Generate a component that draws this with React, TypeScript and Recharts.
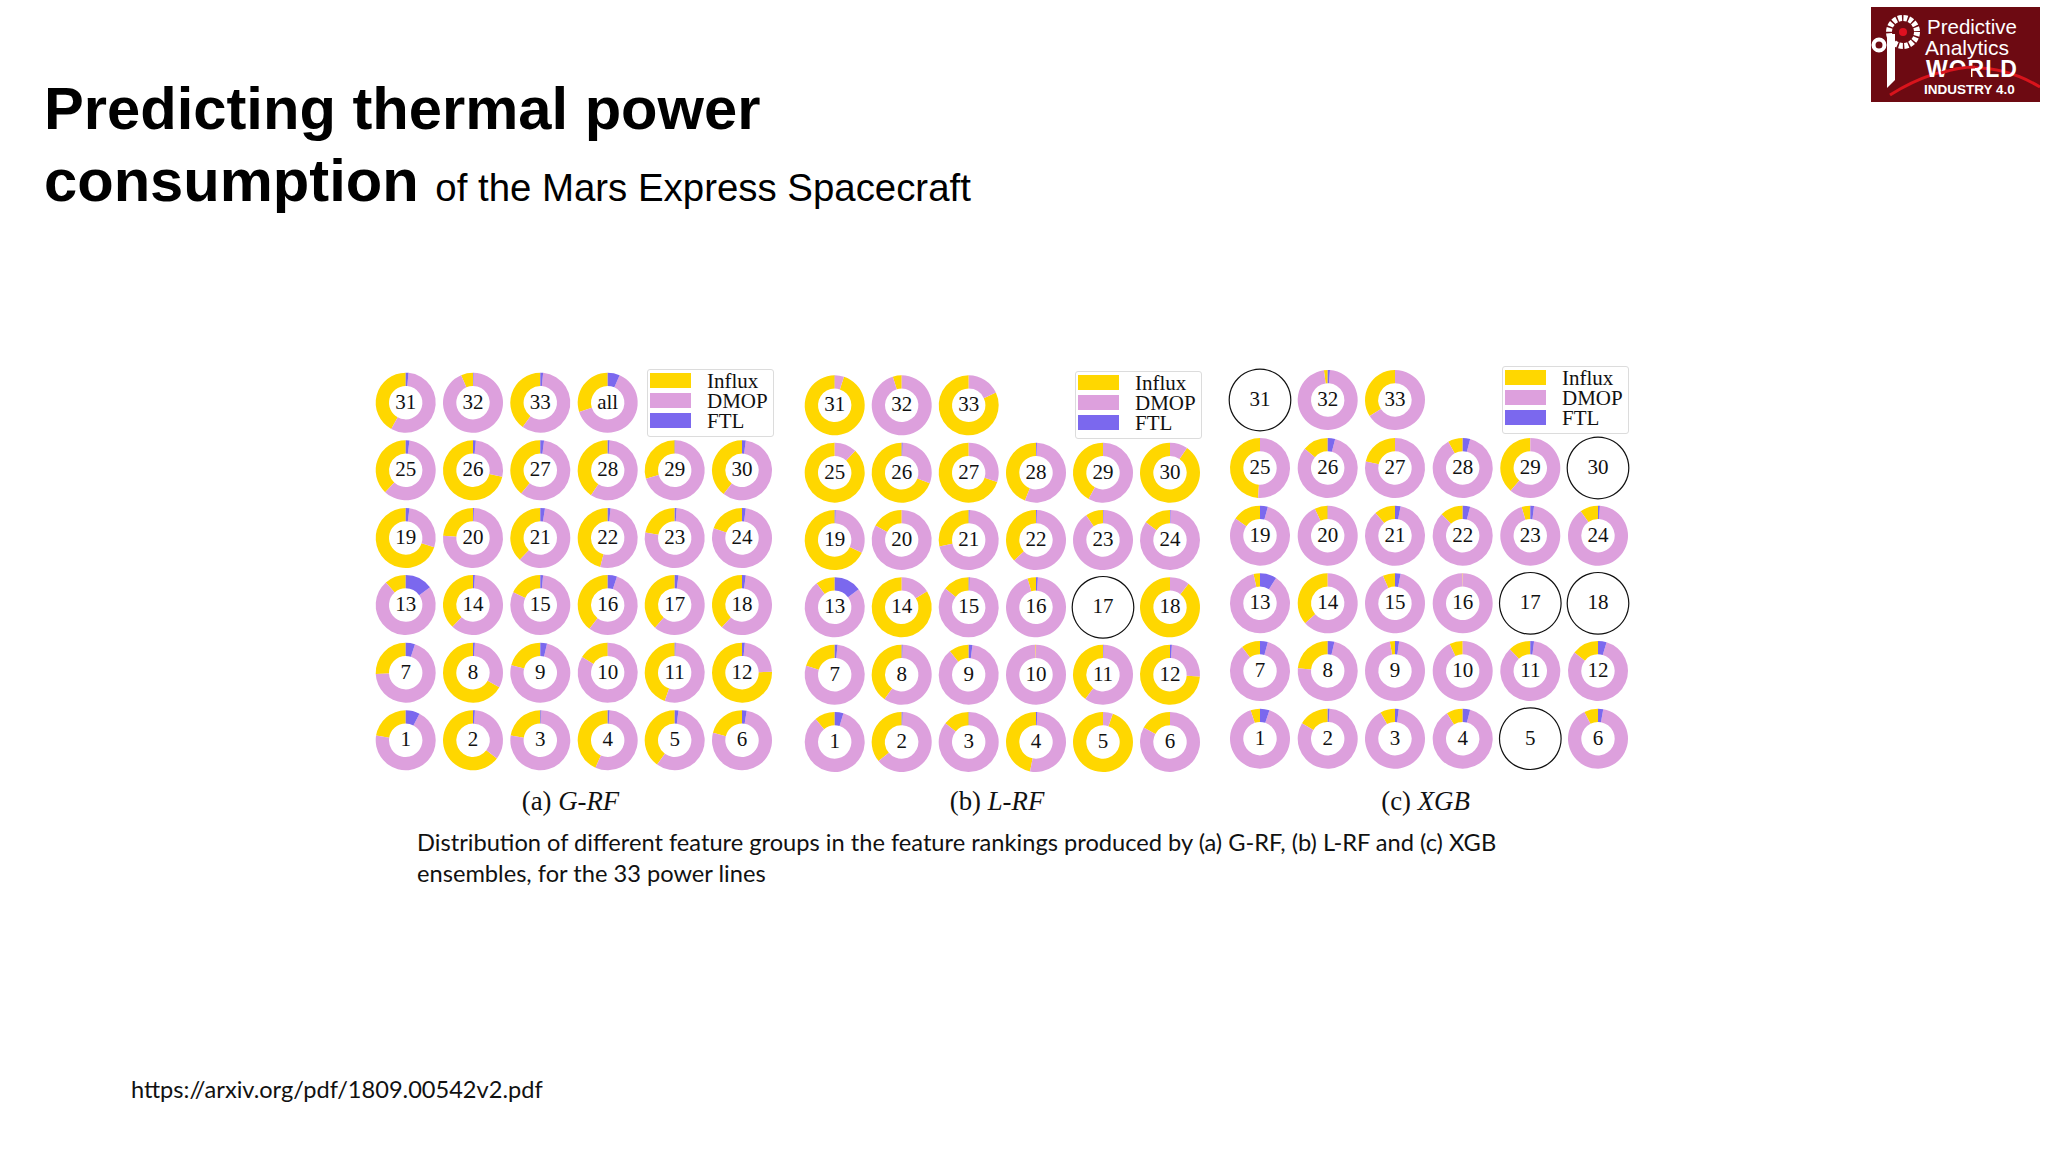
import { Fragment } from "react";
import { Pie, PieChart } from "recharts";

const GROUPS = ["Influx", "DMOP", "FTL"];
const GROUP_COLORS = ["#FFD700", "#DDA0DD", "#7B68EE"];

// power line labels, in the order of the value arrays below
const LINES = [
  "1", "2", "3", "4", "5", "6", "7", "8", "9", "10", "11", "12",
  "13", "14", "15", "16", "17", "18", "19", "20", "21", "22", "23", "24",
  "25", "26", "27", "28", "29", "30", "31", "32", "33", "all",
];

// share of each feature group in %, null = line has no ranking (empty ring)
const GRF_INFLUX = [
  22.5, 64.7, 22.5, 43.3, 40, 21, 25.7, 67, 21, 16.3, 44.6, 75.5,
  11.5, 38, 18, 39.6, 38.6, 38.3, 70, 23.8, 38, 46, 22, 19.7,
  38, 71.5, 39, 40.6, 29.5, 39.5, 42, 6.5, 40, 30,
];
const GRF_DMOP = [
  69.9, 34.3, 77, 55.7, 58, 76.5, 69.3, 32, 75.4, 83.6, 54.9, 23,
  73.5, 61, 80.5, 55.4, 59.4, 59.7, 28, 75.7, 59.5, 52.5, 77, 78.3,
  60, 27, 59, 58.4, 70.2, 58.5, 56.5, 93.2, 58.5, 63.5,
];
const GRF_FTL = [
  7.6, 1, 0.5, 1, 2, 2.5, 5, 1, 3.6, 0.1, 0.5, 1.5,
  15, 1, 1.5, 5, 2, 2, 2, 0.5, 2.5, 1.5, 1, 2,
  2, 1.5, 2, 1, 0.3, 2, 1.5, 0.3, 1.5, 6.5,
];

const LRF_INFLUX = [
  11, 36, 14.2, 46.8, 94.7, 17, 20.2, 40.3, 10.8, 0.4, 40, 74,
  10.3, 84, 14.3, 4.6, null, 89.4, 68, 17, 28.5, 37, 9.5, 15,
  88, 69.3, 70, 44, 42, 90.4, 95, 4.8, 82,
];
const LRF_DMOP = [
  84.3, 63.5, 85.5, 52.5, 5.3, 83, 78.3, 59.2, 87.2, 99.6, 59.7, 25,
  75, 16, 85.2, 94.4, null, 10.6, 31.5, 83, 71, 62.5, 90.2, 84.7,
  12, 30.2, 30, 55.5, 57.9, 9.6, 4.9, 95.2, 18,
];
const LRF_FTL = [
  4.7, 0.5, 0.3, 0.7, 0, 0, 1.5, 0.5, 2, 0, 0.3, 1,
  14.7, 0, 0.5, 1, null, 0, 0.5, 0, 0.5, 0.5, 0.3, 0.3,
  0, 0.5, 0, 0.5, 0.1, 0, 0.1, 0, 0,
];

const XGB_INFLUX = [
  5.1, 16.4, 8, 8.8, null, 7.5, 10.2, 23.6, 2.8, 7.2, 12, 14.4,
  3.5, 36.5, 6.6, 0.3, null, null, 15.3, 7.1, 11.3, 12.4, 4.7, 9.8,
  49, 13.9, 21.5, 8, 38.6, null, null, 2, 34,
];
const XGB_DMOP = [
  89.8, 82.6, 90, 87.2, null, 89.7, 85.6, 72.8, 95, 92.8, 86, 81,
  87.5, 63.5, 90.4, 99.7, null, null, 80.5, 92.7, 85.7, 83.6, 93.3, 89.2,
  51, 82.1, 78.5, 88, 61.4, null, null, 96.8, 66,
];
const XGB_FTL = [
  5.1, 1, 2, 4, null, 2.8, 4.2, 3.6, 2.2, 0, 2, 4.6,
  9, 0, 3, 0, null, null, 4.2, 0.2, 3, 4, 2, 1,
  0, 4, 0, 4, 0, null, null, 1.2, 0,
];

const R_OUTER = 30;
const R_INNER = 16.7;

const PANELS = [
  {
    id: "a",
    influx: GRF_INFLUX,
    dmop: GRF_DMOP,
    ftl: GRF_FTL,
    xs: [405.7, 473, 540.3, 607.7, 674.7, 742],
    ys: [402.7, 470.3, 538, 605, 672.7, 740.3],
    legend: { left: 647, top: 368.5, swatchLeft: 650, swatchTop: 373 },
    caption: { tag: "(a)", name: "G-RF", x: 570.5, y: 801 },
  },
  {
    id: "b",
    influx: LRF_INFLUX,
    dmop: LRF_DMOP,
    ftl: LRF_FTL,
    xs: [834.7, 901.7, 968.7, 1036, 1103, 1170],
    ys: [405.3, 472.7, 540, 607.3, 674.7, 742],
    legend: { left: 1075, top: 370.5, swatchLeft: 1078, swatchTop: 375 },
    caption: { tag: "(b)", name: "L-RF", x: 997, y: 801 },
  },
  {
    id: "c",
    influx: XGB_INFLUX,
    dmop: XGB_DMOP,
    ftl: XGB_FTL,
    xs: [1260, 1327.7, 1395, 1462.7, 1530.3, 1598],
    ys: [400, 468, 535.7, 603.3, 671, 738.7],
    legend: { left: 1502, top: 365.5, swatchLeft: 1505, swatchTop: 370 },
    caption: { tag: "(c)", name: "XGB", x: 1425.5, y: 801 },
  },
];

const SERIF = '"Liberation Serif", serif';
const SANS = '"Liberation Sans", sans-serif';
const BODY = "Lato, sans-serif";

function Legend({ box }: { box: { left: number; top: number; swatchLeft: number; swatchTop: number } }) {
  return (
    <div
      style={{
        position: "absolute",
        left: box.left,
        top: box.top,
        width: 125,
        height: 66,
        border: "1.5px solid #dcdcdc",
        borderRadius: 3,
        background: "#fff",
      }}
    >
      {GROUPS.map((g, i) => (
        <Fragment key={g}>
          <div
            style={{
              position: "absolute",
              left: box.swatchLeft - box.left - 1,
              top: box.swatchTop - box.top - 1 + i * 20,
              width: 41,
              height: 15,
              background: GROUP_COLORS[i],
            }}
          />
          <div
            style={{
              position: "absolute",
              left: 59,
              top: i * 20,
              fontFamily: SERIF,
              fontSize: 21,
              lineHeight: "22px",
              color: "#111",
            }}
          >
            {g}
          </div>
        </Fragment>
      ))}
    </div>
  );
}

function Logo() {
  return (
    <svg
      width={169}
      height={95}
      viewBox="0 0 169 95"
      style={{ position: "absolute", left: 1871, top: 7 }}
    >
      <rect width={169} height={95} fill="#6d0a12" />
      <circle cx={32} cy={25} r={14} fill="none" stroke="#fff" strokeWidth={6} strokeDasharray="4 1.5" />
      <circle cx={32} cy={25} r={4} fill="#e01020" />
      <path d="M16 27 L16 81 L24 73 L24 27 Z" fill="#fff" />
      <circle cx={8} cy={38} r={5.5} fill="none" stroke="#fff" strokeWidth={4} />
      <path d="M19 88 Q99 38 169 80" fill="none" stroke="#d8141c" strokeWidth={3} />
      <g fill="#fff" fontFamily={SANS} textAnchor="start">
        <text x={56} y={27} fontSize={20.5}>Predictive</text>
        <text x={54} y={48} fontSize={21}>Analytics</text>
        <text x={55} y={70} fontSize={23} fontWeight="bold" letterSpacing={1}>WORLD</text>
        <text x={53} y={87} fontSize={13.5} fontWeight="bold">INDUSTRY 4.0</text>
      </g>
      {/* the swoosh cuts through the O of WORLD */}
      <rect x={76} y={61} width={24} height={12} fill="#6d0a12" />
      <path d="M70 66 Q88 60 104 60" fill="none" stroke="#d8141c" strokeWidth={3} />
    </svg>
  );
}

export default function App() {
  return (
    <div
      style={{
        position: "absolute",
        left: 0,
        top: 0,
        width: 2048,
        height: 1152,
        overflow: "hidden",
        background: "#fff",
      }}
    >
      <PieChart width={2048} height={1152} margin={{ top: 0, right: 0, bottom: 0, left: 0 }}>
        {PANELS.map((p) =>
          p.influx.map((v, i) => {
            const row = 5 - Math.floor(i / 6);
            const col = i % 6;
            const cx = p.xs[col];
            const cy = p.ys[row];
            const label = LINES[i];
            const empty = v === null;
            const data = empty
              ? [{ name: "none", value: 1, fill: "#111" }]
              : [
                  { name: GROUPS[0], value: v, fill: GROUP_COLORS[0] },
                  { name: GROUPS[1], value: p.dmop[i], fill: GROUP_COLORS[1] },
                  { name: GROUPS[2], value: p.ftl[i], fill: GROUP_COLORS[2] },
                ];
            return (
              <Pie
                key={`${p.id}-${label}`}
                data={data}
                dataKey="value"
                cx={cx}
                cy={cy}
                startAngle={90}
                endAngle={450}
                innerRadius={empty ? 30.2 : R_INNER}
                outerRadius={empty ? 31.4 : R_OUTER}
                stroke="none"
                isAnimationActive={false}
              />
            );
          })
        )}
        {PANELS.map((p) =>
          p.influx.map((_, i) => (
            <text
              key={`${p.id}-label-${i}`}
              x={p.xs[i % 6]}
              y={p.ys[5 - Math.floor(i / 6)] - 1}
              textAnchor="middle"
              dominantBaseline="central"
              fontFamily={SERIF}
              fontSize={21}
              fill="#111"
            >
              {LINES[i]}
            </text>
          ))
        )}
      </PieChart>

      {PANELS.map((p) => (
        <Fragment key={p.id}>
          <Legend box={p.legend} />
          <div
            style={{
              position: "absolute",
              left: p.caption.x - 100,
              top: p.caption.y - 15,
              width: 200,
              textAlign: "center",
              fontFamily: SERIF,
              fontSize: 26.8,
              lineHeight: "30px",
              color: "#111",
            }}
          >
            {p.caption.tag} <i>{p.caption.name}</i>
          </div>
        </Fragment>
      ))}

      <div
        style={{
          position: "absolute",
          left: 44,
          top: 72.5,
          fontFamily: SANS,
          fontWeight: "bold",
          fontSize: 59.7,
          lineHeight: "72px",
          color: "#000",
        }}
      >
        Predicting thermal power
        <br />
        consumption{" "}
        <span style={{ fontWeight: "normal", fontSize: 38.4 }}>of the Mars Express Spacecraft</span>
      </div>

      <div
        style={{
          position: "absolute",
          left: 417,
          top: 826.5,
          width: 1130,
          fontFamily: BODY,
          fontSize: 23.65,
          lineHeight: "31.5px",
          color: "#111",
        }}
      >
        Distribution of different feature groups in the feature rankings produced by (a) G-RF, (b) L-RF and (c) XGB
        ensembles, for the 33 power lines
      </div>

      <div
        style={{
          position: "absolute",
          left: 131,
          top: 1074,
          fontFamily: BODY,
          fontSize: 23.6,
          lineHeight: "31.5px",
          color: "#111",
        }}
      >
        https://arxiv.org/pdf/1809.00542v2.pdf
      </div>

      <Logo />
    </div>
  );
}
